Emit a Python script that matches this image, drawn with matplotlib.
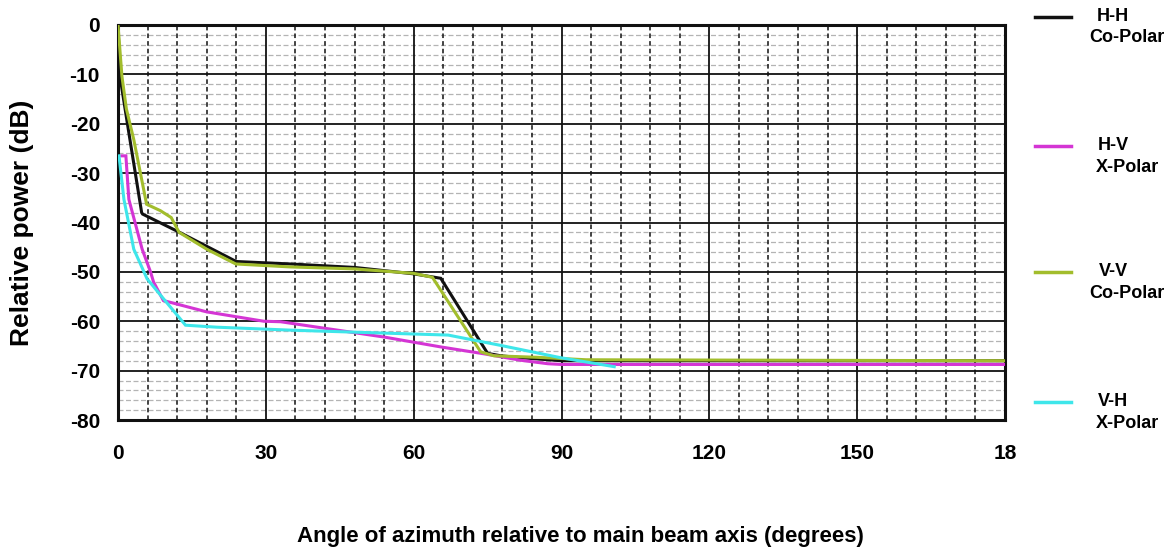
import numpy as np
import matplotlib
matplotlib.use("Agg")
import matplotlib.pyplot as plt
from matplotlib.lines import Line2D

plt.rcParams['font.family'] = ['Liberation Sans', 'DejaVu Sans']
plt.rcParams['axes.unicode_minus'] = False

# H-H co-polar (black)
hh_x = [0, 0.4, 2.1, 4.8, 5.0, 12.3, 24, 35, 48, 60, 65.5, 75, 77.7, 82, 90, 180]
hh_y = [0, -10.4, -21.2, -38.0, -38.3, -41.9, -47.9, -48.4, -49.1, -50.4, -51.3, -66.5, -67.0, -67.4, -68.0, -68.0]

# H-V x-polar (magenta)
hv_x = [0.75, 1.6, 2.2, 4.9, 6.6, 7.2, 9.2, 18, 29.6, 33, 54, 65.5, 74.3, 81.7, 87.2, 90, 180]
hv_y = [-26.5, -26.5, -35.3, -45.4, -50.0, -52.0, -55.8, -58.1, -60.0, -60.1, -63.2, -65.2, -66.6, -67.9, -68.6, -68.75, -68.75]

# V-V co-polar (green)
vv_x = [0, 0.8, 1.7, 3.2, 5.8, 8.6, 10.8, 12.4, 18, 23.9, 35, 48, 60, 63.8, 73.6, 76.3, 85, 95, 180]
vv_y = [0, -10.4, -17.0, -23.2, -36.3, -37.6, -39.0, -42.0, -45.4, -48.4, -49.0, -49.4, -50.3, -51.1, -66.2, -67.0, -67.3, -67.8, -68.0]

# V-H x-polar (cyan)
vh_x = [0.2, 1.2, 3.2, 5.9, 9.2, 13.7, 20, 35, 54, 67, 77.7, 89.9, 100.7]
vh_y = [-26.5, -35.3, -45.4, -51.4, -55.4, -60.8, -61.2, -61.8, -62.4, -62.8, -64.9, -67.4, -69.2]

series = [
    (hh_x, hh_y, '#111111', 'H-H', 'Co-Polar'),
    (hv_x, hv_y, '#d435d4', 'H-V', 'X-Polar'),
    (vv_x, vv_y, '#a2bd2c', 'V-V', 'Co-Polar'),
    (vh_x, vh_y, '#3ee6ea', 'V-H', 'X-Polar'),
]

x_ticks = [0, 30, 60, 90, 120, 150, 180]
x_tick_labels = ['0', '30', '60', '90', '120', '150', '18']
y_ticks = [0, -10, -20, -30, -40, -50, -60, -70, -80]

W, H = 1171, 551
fig = plt.figure(figsize=(W / 100, H / 100), dpi=100)
ax = fig.add_axes([118 / W, (H - 420) / H, 887 / W, 395 / H])

ax.set_xlim(0, 180)
ax.set_ylim(-80, 0)

# grid: minor first, then major
for v in np.arange(-78, 0, 2):
    if v % 10 != 0:
        ax.axhline(v, color='#b4b4b4', lw=0.9, ls=(0, (4, 2)), zorder=1)
for v in np.arange(6, 180, 6):
    if v % 30 != 0:
        ax.axvline(v, color='#111111', lw=1.1, ls=(0, (3, 2)), zorder=1)
for v in y_ticks[1:-1]:
    ax.axhline(v, color='#111111', lw=1.3, zorder=2)
for v in x_ticks[1:-1]:
    ax.axvline(v, color='#111111', lw=1.3, zorder=2)

for x, y, c, a, b in series:
    ax.plot(x, y, color=c, lw=2.2, zorder=3, solid_joinstyle='miter')

for s in ax.spines.values():
    s.set_linewidth(2.2)
    s.set_color('#111111')

ax.set_xticks(x_ticks)
ax.set_xticklabels(x_tick_labels)
ax.set_yticks(y_ticks)
ax.tick_params(axis='both', length=0)
ax.tick_params(axis='x', pad=17, labelsize=15)
ax.tick_params(axis='y', pad=13, labelsize=15)
for t in ax.get_xticklabels() + ax.get_yticklabels():
    t.set_fontweight('bold')

ax.set_xlabel('Angle of azimuth relative to main beam axis (degrees)',
              fontsize=16, fontweight='bold')
ax.xaxis.label.set_va('center')
ax.xaxis.set_label_coords(0.521, -0.296)
ax.set_ylabel('Relative power (dB)', fontsize=19, fontweight='bold')
ax.yaxis.label.set_va('center')
ax.yaxis.set_label_coords(-0.108, 0.50)

# legend drawn at the right side
leg_y = [16.5, 146, 272, 402]
for (x, y, c, a, b), ly in zip(series, leg_y):
    fig.add_artist(Line2D([1035 / W, 1071 / W], [1 - ly / H, 1 - ly / H],
                          color=c, lw=2.5, transform=fig.transFigure))
    fig.text(1113 / W, 1 - ly / H, a, ha='center', va='center',
             fontsize=13, fontweight='bold')
    fig.text(1127 / W, 1 - (ly + 21) / H, b, ha='center', va='center',
             fontsize=13, fontweight='bold')

fig.savefig('out.png', dpi=100, facecolor='white')
